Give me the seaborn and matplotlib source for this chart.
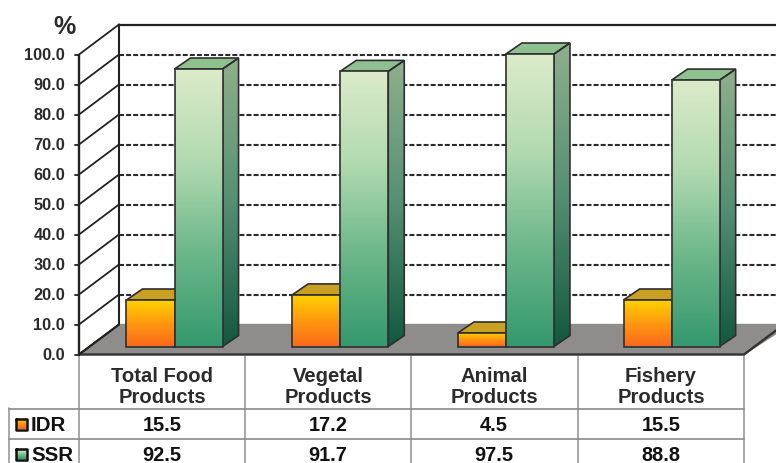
import matplotlib
matplotlib.use("Agg")
import matplotlib.pyplot as plt
from matplotlib.colors import LinearSegmentedColormap
from matplotlib.patches import Polygon
import numpy as np
import pandas as pd
import seaborn as sns

categories = ["Total Food\nProducts", "Vegetal\nProducts", "Animal\nProducts", "Fishery\nProducts"]
idr_values = [15.5, 17.2, 4.5, 15.5]
ssr_values = [92.5, 91.7, 97.5, 88.8]
idr_labels = ["15.5", "17.2", "4.5", "15.5"]
ssr_labels = ["92.5", "91.7", "97.5", "88.8"]
y_ticks = [0, 10, 20, 30, 40, 50, 60, 70, 80, 90, 100]

TEXT = "#2b2b2b"
FONT = "Liberation Sans"
idr_cmap = LinearSegmentedColormap.from_list("idr", ["#ffd400", "#ff9a10", "#fb6a1c"])
ssr_cmap = LinearSegmentedColormap.from_list("ssr", ["#dcebc9", "#b2dab0", "#6cb78a", "#35996e"])
side_cmap = LinearSegmentedColormap.from_list("side", ["#8fb08c", "#558f74", "#12593f"])
idr_top = "#c9a021"
ssr_top = "#8fc190"

sns.set_theme(style="white")
plt.rcParams["font.family"] = [FONT, "DejaVu Sans"]

fig = plt.figure(figsize=(7.76, 4.64), dpi=100)

# pixel axes for walls, floor and table
bg = fig.add_axes([0, 0, 1, 1])
bg.set_xlim(0, 776)
bg.set_ylim(464, 0)
bg.axis("off")

bg.fill([79, 119, 790, 744], [355.5, 325.5, 325.5, 355.5], color="#8f8c8c", zorder=1)
bg.plot([79, 744, 790], [355.5, 355.5, 321], color="#333333", lw=1.7, zorder=2)
bg.plot([79, 119, 119], [355.5, 325.5, 25.5], color="#222222", lw=1.5, zorder=2)
bg.plot([79, 79], [55.5, 355.5], color="#222222", lw=1.7, zorder=2)
bg.plot([119, 790], [25.5, 25.5], color="#222222", lw=1.6, zorder=2)

for v in y_ticks:
    front = 355.5 - 3 * v
    back = 325.5 - 3 * v
    bg.plot([75, 79], [front, front], color="#222222", lw=1.3, zorder=2)
    bg.plot([79, 119], [front, back], color="#222222", lw=1.3, zorder=2)
    if 0 < v < 100:
        bg.plot([119, 790], [back, back], color="#2a2a2a", lw=1.5, ls=(0, (2.4, 1.0)), zorder=1.5)
    bg.text(65, front + 0.5, f"{v:.1f}", ha="right", va="center", fontsize=11.8,
            fontweight="bold", color=TEXT)
bg.text(65, 27, "%", ha="center", va="center", fontsize=18, fontweight="bold", color=TEXT)

# table
edges = [79, 245, 411, 578, 744]
centers = [162, 328, 494, 661]
for x in edges:
    bg.plot([x, x], [357, 464], color="#9a9a9a", lw=1.2, zorder=1)
bg.plot([9, 9], [409, 464], color="#9a9a9a", lw=1.2, zorder=1)
bg.plot([9, 744], [409.5, 409.5], color="#8a8a8a", lw=1.2, zorder=1)
bg.plot([9, 744], [439.5, 439.5], color="#8a8a8a", lw=1.2, zorder=1)

for c, name, a, b in zip(centers, categories, idr_labels, ssr_labels):
    bg.text(c, 387, name, ha="center", va="center", fontsize=14.6, fontweight="bold",
            color=TEXT, linespacing=1.12)
    bg.text(c, 425.5, a, ha="center", va="center", fontsize=14.4, fontweight="bold", color="#111111")
    bg.text(c, 455.5, b, ha="center", va="center", fontsize=14.4, fontweight="bold", color="#111111")

for y, name, cmap in [(425, "IDR", idr_cmap), (455, "SSR", ssr_cmap)]:
    grad = np.linspace(0, 1, 32).reshape(-1, 1)
    bg.imshow(grad, cmap=cmap, extent=(16, 27, y + 5.5, y - 5.5), aspect="auto", zorder=3)
    bg.plot([16, 27, 27, 16, 16], [y - 5.5, y - 5.5, y + 5.5, y + 5.5, y - 5.5],
            color="#111111", lw=1.8, zorder=4)
    bg.text(31, y + 0.5, name, ha="left", va="center", fontsize=14.8, fontweight="bold", color="#111111")
bg.set_xlim(0, 776)
bg.set_ylim(464, 0)

# bars, on a transparent axes over the whole figure
data = pd.DataFrame({
    "category": categories * 2,
    "series": ["IDR"] * 4 + ["SSR"] * 4,
    "value": idr_values + ssr_values,
})
ax = fig.add_axes([0, 0, 1, 1], facecolor="none")
sns.barplot(data=data, x="category", y="value", hue="series", width=0.58, gap=0,
            palette=["#ff9a10", "#62b184"], legend=False, ax=ax)
ax.axis("off")

x_unit = 165.7
y_unit = 3.0
xlim = (-174.5 / x_unit, (776 - 174.5) / x_unit)
ylim = (-(464 - 347.5) / y_unit, 347.5 / y_unit)
ax.set_xlim(xlim)
ax.set_ylim(ylim)
dx = 16 / x_unit
dy = 11 / y_unit


def gradient_poly(verts, cmap, z):
    xs = [p[0] for p in verts]
    ys = [p[1] for p in verts]
    grad = np.linspace(0, 1, 128).reshape(-1, 1)
    im = ax.imshow(grad, cmap=cmap, aspect="auto", zorder=z,
                   extent=(min(xs), max(xs), min(ys), max(ys)))
    im.set_clip_path(Polygon(verts, closed=True, transform=ax.transData))
    ax.add_patch(Polygon(verts, closed=True, fill=False, ec="#2f2f2f", lw=1.2, zorder=z + 0.1))


for cont, front_cmap, top_color, base_z in [(ax.containers[0], idr_cmap, idr_top, 3),
                                            (ax.containers[1], ssr_cmap, ssr_top, 4)]:
    for bar in cont:
        x0 = bar.get_x()
        x1 = x0 + bar.get_width()
        h = bar.get_height()
        bar.set_visible(False)
        gradient_poly([(x0, 0), (x1, 0), (x1, h), (x0, h)], front_cmap, base_z + 0.5)
        gradient_poly([(x1, 0), (x1 + dx, dy), (x1 + dx, h + dy), (x1, h)], side_cmap, base_z)
        ax.add_patch(Polygon([(x0, h), (x1, h), (x1 + dx, h + dy), (x0 + dx, h + dy)], closed=True,
                             fc=top_color, ec="#2f2f2f", lw=1.2, zorder=base_z))

ax.set_xlim(xlim)
ax.set_ylim(ylim)

fig.savefig("out.png", dpi=100)
